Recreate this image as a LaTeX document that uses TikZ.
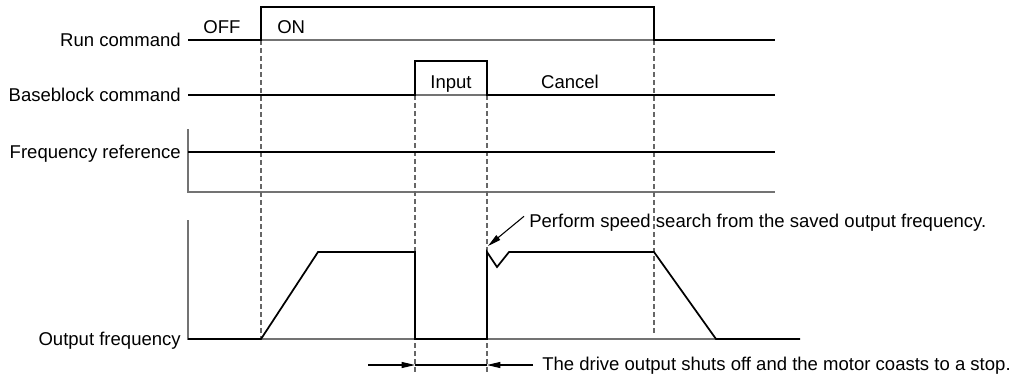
\documentclass[tikz,border=0pt]{standalone}
\usepackage{fontspec}
\setmainfont{Liberation Sans}
\usetikzlibrary{arrows.meta,positioning}

\begin{document}
\begin{tikzpicture}[
  x=0.75pt,y=-0.75pt,
  lbl/.style={inner sep=0pt,font=\fontsize{13.9}{16}\selectfont},
  axis/.style={draw=black!55,line width=0.9pt},
  sig/.style={draw=black,line width=1.3pt,line join=miter},
  guide/.style={draw=black!60,line width=0.8pt,dash pattern=on 3.5pt off 2.5pt},
  arr/.style={-{Triangle[length=10pt,width=4.5pt]},line width=0.8pt,draw=black}
]
\useasboundingbox (0,0) rectangle (1016,375);

% signal names
\node[lbl,anchor=base east] (run)  at (181,46.6)  {Run command};
\node[lbl,anchor=base east] (bb)   at (181,101.6) {Baseblock command};
\node[lbl,anchor=base east] (fref) at (181,158.6) {Frequency reference};
\node[lbl,anchor=base east] (fout) at (181,345.6) {Output frequency};

% time marks
\coordinate (t1) at (261,0);
\coordinate (t2) at (415,0);
\coordinate (t3) at (487,0);
\coordinate (t4) at (654,0);

% axes
\draw[axis] (188,40) -- (775,40);
\draw[axis] (188,95) -- (775,95);
\draw[axis] (188,129) -- (188,192) -- (775,192);
\draw[axis] (188,220) -- (188,339) -- (800,339);

% guides
\draw[guide] (t1 |- 0,40) -- (t1 |- 0,339);
\draw[guide] (t2 |- 0,95) -- (t2 |- 0,373);
\draw[guide] (t3 |- 0,95) -- (t3 |- 0,373);
\draw[guide] (t4 |- 0,40) -- (t4 |- 0,335);

% run command
\draw[sig] (188,40) -- (t1 |- 0,40) -- (t1 |- 0,7) -- (t4 |- 0,7) -- (t4 |- 0,40) -- (775,40);
\node[lbl,anchor=base] (off) at (222,33) {OFF};
\node[lbl,anchor=base west] (on) at (277,33) {ON};

% baseblock command
\draw[sig] (188,95) -- (t2 |- 0,95) -- (t2 |- 0,61) -- (t3 |- 0,61) -- (t3 |- 0,95) -- (775,95);
\node[lbl,anchor=base] (inp) at (451,88) {Input};
\node[lbl,anchor=base] (cancel) at (570,88) {Cancel};

% frequency reference
\draw[sig] (188,152) -- (775,152);

% output frequency
\draw[sig] (188,339) -- (t1 |- 0,339) -- (318,252) -- (t2 |- 0,252) -- (t2 |- 0,339)
  -- (t3 |- 0,339) -- (t3 |- 0,252) coordinate (resume) -- (497,267) -- (509,252)
  -- (t4 |- 0,252) -- (716,339) -- (800,339);

% notes
\node[lbl,anchor=base west] (ssnote) at (529,227) {Perform speed search from the saved output frequency.};
\draw[arr] ([shift={(-5,3)}]ssnote.north west) -- ([shift={(1,-6)}]resume);

\node[lbl,anchor=base west] (coast) at (542,370) {The drive output shuts off and the motor coasts to a stop.};
\coordinate (b2) at (t2 |- 0,365);
\coordinate (b3) at (t3 |- 0,365);
\draw[arr] ([shift={(-47,0)}]b2) -- (b2);
\draw[line width=0.8pt] (b2) -- (b3);
\draw[arr] ([shift={(-9,0)}]coast.base west |- b3) -- (b3);
\end{tikzpicture}
\end{document}
